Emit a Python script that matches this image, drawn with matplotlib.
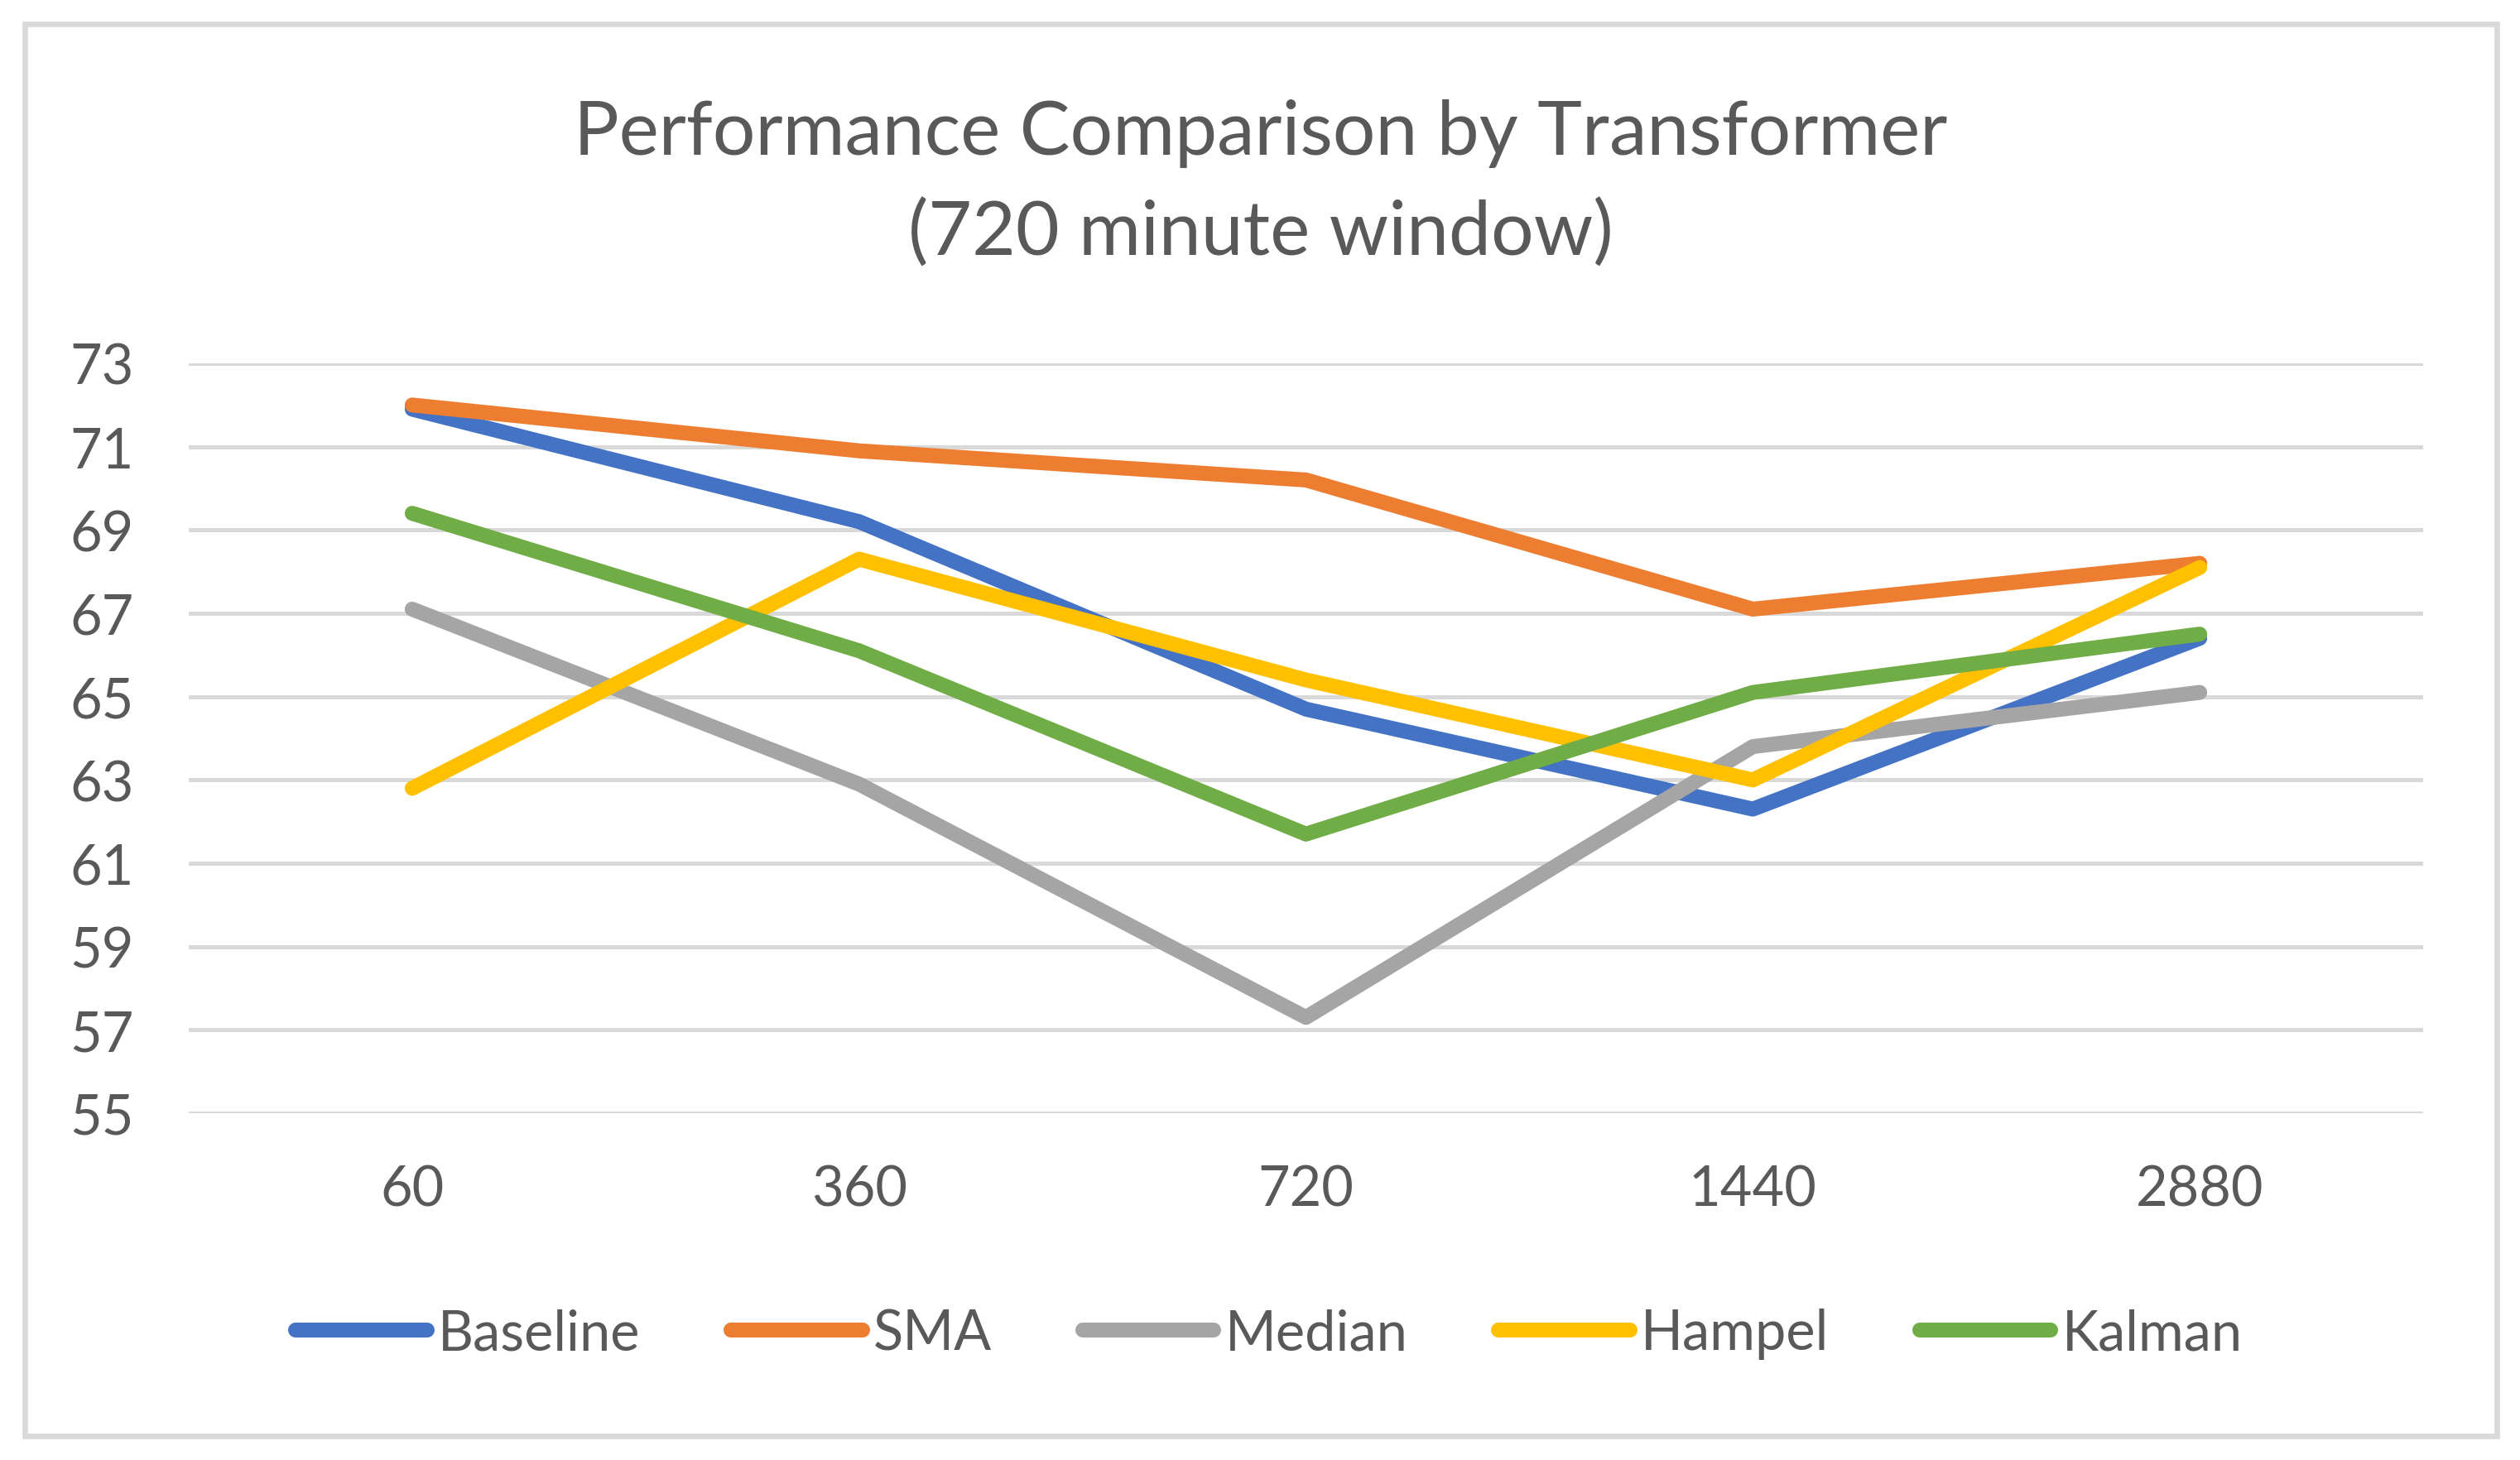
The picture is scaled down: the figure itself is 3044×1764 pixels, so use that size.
import matplotlib
matplotlib.use("Agg")
import matplotlib.pyplot as plt
from matplotlib.patches import Rectangle

# ---- data ----
categories = ["60", "360", "720", "1440", "2880"]
baseline = [71.9, 69.2, 64.7, 62.3, 66.4]
sma = [72.0, 70.9, 70.2, 67.1, 68.2]
median = [67.1, 62.9, 57.3, 63.8, 65.1]
hampel = [62.8, 68.3, 65.4, 63.0, 68.1]
kalman = [69.4, 66.1, 61.7, 65.1, 66.5]
series_names = ["Baseline", "SMA", "Median", "Hampel", "Kalman"]
y_ticks = [55, 57, 59, 61, 63, 65, 67, 69, 71, 73]

colors = ["#4472C4", "#ED7D31", "#A5A5A5", "#FFC000", "#70AD47"]
text_color = "#595959"
grid_color = "#D9D9D9"

plt.rcParams['font.family'] = ['Lato', 'DejaVu Sans']

W, H = 3044, 1765
dpi = 200
fig = plt.figure(figsize=(W / dpi, H / dpi), dpi=dpi)

# outer border
fig.patches.append(Rectangle((29.5 / W, 1 - 1735.5 / H), (3015.5 - 29.5) / W, (1735.5 - 29.5) / H,
                             transform=fig.transFigure, fill=False,
                             edgecolor=grid_color, linewidth=2.4))

left, right = 228 / W, 2927 / W
top, bottom = 1 - 440 / H, 1 - 1346 / H
ax = fig.add_axes([left, bottom, right - left, top - bottom])

x = list(range(len(categories)))
all_series = [baseline, sma, median, hampel, kalman]
for name, vals, c in zip(series_names, all_series, colors):
    ax.plot(x, vals, color=c, linewidth=6.5, solid_capstyle='round',
            solid_joinstyle='round', label=name, zorder=3)

ax.set_xlim(-0.5, len(categories) - 0.5)
ax.set_ylim(55, 73)
ax.set_yticks(y_ticks)
ax.set_yticklabels([str(v) for v in y_ticks])
ax.set_xticks(x)
ax.set_xticklabels(categories)
ax.yaxis.grid(True, color=grid_color, linewidth=1.8, zorder=0)
ax.xaxis.grid(False)
ax.set_axisbelow(True)
for s in ax.spines.values():
    s.set_visible(False)
ax.tick_params(axis='both', length=0, labelsize=24, labelcolor=text_color)
ax.tick_params(axis='y', pad=24)
ax.tick_params(axis='x', pad=22)

# title
fig.text(1523 / W, 1 - 187 / H, "Performance Comparison by Transformer",
         ha='center', va='baseline', fontsize=32.8, color=text_color)
fig.text(1523 / W, 1 - 309 / H, "(720 minute window)",
         ha='center', va='baseline', fontsize=32.8, color=text_color)

leg = fig.legend(loc='center', bbox_to_anchor=(1533 / W, 1 - 1612 / H), ncol=5,
                 frameon=False, fontsize=24, handlelength=2.38, handletextpad=0.2,
                 columnspacing=1.64, borderaxespad=0, borderpad=0)
for t in leg.get_texts():
    t.set_color(text_color)

fig.savefig("out.png", dpi=dpi, facecolor="white")
